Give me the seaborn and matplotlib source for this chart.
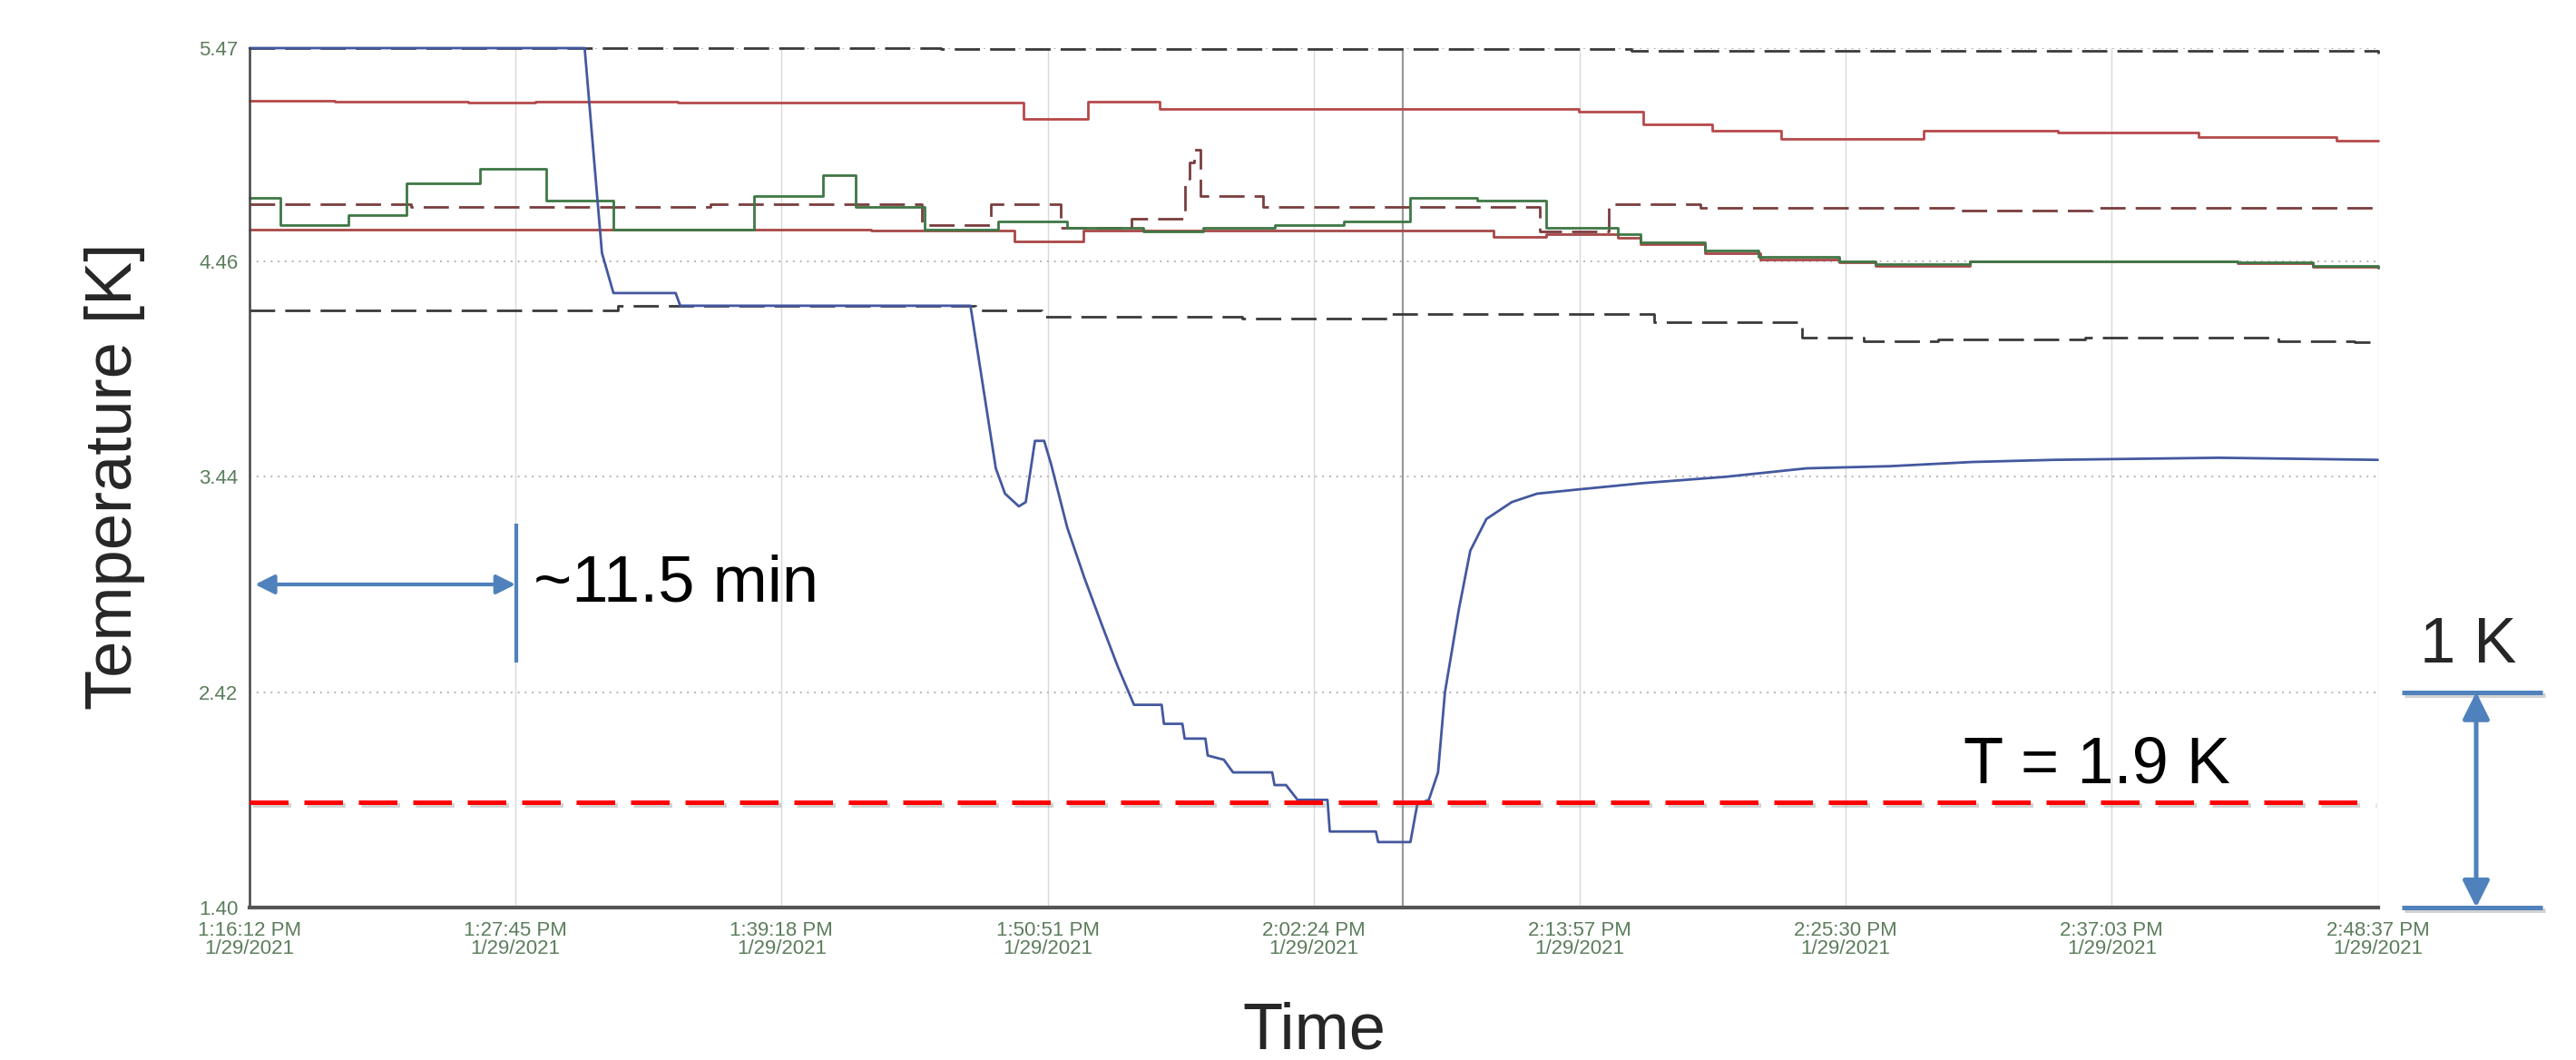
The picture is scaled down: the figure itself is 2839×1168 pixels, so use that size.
import numpy as np
import pandas as pd
import matplotlib
matplotlib.use("Agg")
import matplotlib.pyplot as plt
import matplotlib.patheffects as pe
from matplotlib.transforms import blended_transform_factory
import seaborn as sns

# ---------------- data (time in minutes since 1:16:12 PM) ----------------
x_ticks = [0, 11.55, 23.1, 34.65, 46.2, 57.75, 69.3, 80.85, 92.417]
x_tick_labels = ["1:16:12 PM\n1/29/2021", "1:27:45 PM\n1/29/2021", "1:39:18 PM\n1/29/2021",
                 "1:50:51 PM\n1/29/2021", "2:02:24 PM\n1/29/2021", "2:13:57 PM\n1/29/2021",
                 "2:25:30 PM\n1/29/2021", "2:37:03 PM\n1/29/2021", "2:48:37 PM\n1/29/2021"]
y_ticks = [1.40, 2.42, 3.44, 4.46, 5.47]
y_tick_labels = ["1.40", "2.42", "3.44", "4.46", "5.47"]

# main (blue) sensor
blue_t = [0, 14.55, 15.3, 15.8, 18.5, 18.7, 31.3, 32.4, 32.8, 33.4, 33.7, 34.1, 34.5, 34.8,
          35.5, 36.25, 37.0, 37.7, 38.4, 39.6, 39.7, 40.5, 40.6, 41.5, 41.6, 42.3, 42.7,
          44.4, 44.5, 45.0, 45.5, 46.8, 46.9, 48.9, 49.0, 50.4, 50.7, 51.2, 51.6, 51.9,
          52.5, 53.0, 53.7, 54.8, 55.9, 57.7, 60.5, 64.1, 67.6, 71.2, 74.8, 78.3, 85.5, 92.4]
blue_v = [5.47, 5.47, 4.50, 4.31, 4.31, 4.25, 4.25, 3.48, 3.36, 3.30, 3.32, 3.61, 3.61, 3.50,
          3.20, 2.96, 2.74, 2.54, 2.36, 2.36, 2.27, 2.27, 2.20, 2.20, 2.12, 2.10, 2.04,
          2.04, 1.98, 1.98, 1.91, 1.91, 1.76, 1.76, 1.71, 1.71, 1.89, 1.91, 2.04, 2.42,
          2.81, 3.09, 3.24, 3.32, 3.36, 3.38, 3.41, 3.44, 3.48, 3.49, 3.51, 3.52, 3.53, 3.52]

# black dashed, top (saturated)
blk_top_t = [0, 30, 60, 92.4]
blk_top_v = [5.47, 5.465, 5.455, 5.445]

# black dashed, lower
blk_low_t = [0, 16.0, 31.5, 34.4, 43.1, 49.5, 61.0, 67.4, 70.1, 73.3, 79.7, 88.1, 91.4, 92.4]
blk_low_v = [4.226, 4.25, 4.226, 4.20, 4.19, 4.21, 4.17, 4.10, 4.083, 4.09, 4.10, 4.083, 4.076, 4.076]

# red solid, upper
red_hi_t = [0, 3.7, 9.5, 12.4, 18.6, 27.5, 30.7, 33.6, 36.4, 39.5, 57.7, 60.5, 63.5, 66.5,
            72.7, 78.5, 84.6, 90.6, 92.4]
red_hi_v = [5.22, 5.215, 5.21, 5.215, 5.21, 5.214, 5.21, 5.135, 5.218, 5.18, 5.17, 5.11, 5.08,
            5.04, 5.08, 5.07, 5.05, 5.03, 5.03]

# red solid, lower
red_lo_t = [0, 27.0, 33.2, 36.2, 54.0, 56.3, 59.4, 60.4, 63.2, 65.6, 69.0, 70.6, 74.7, 86.3, 89.6, 92.4]
red_lo_v = [4.61, 4.605, 4.556, 4.607, 4.577, 4.59, 4.57, 4.54, 4.50, 4.47, 4.455, 4.44, 4.46,
            4.45, 4.435, 4.43]

# green solid
green_t = [0, 1.34, 4.3, 6.8, 10.0, 12.9, 15.8, 21.9, 24.9, 26.3, 29.3, 32.5, 35.5, 38.8,
           41.4, 44.5, 47.5, 50.4, 53.3, 56.3, 59.4, 60.4, 63.2, 65.5, 69.0, 70.6, 74.7,
           86.3, 89.6, 92.4]
green_v = [4.76, 4.63, 4.68, 4.83, 4.90, 4.75, 4.61, 4.77, 4.87, 4.72, 4.61, 4.65, 4.62, 4.60,
           4.62, 4.63, 4.65, 4.76, 4.75, 4.62, 4.59, 4.55, 4.51, 4.48, 4.46, 4.445, 4.46,
           4.455, 4.44, 4.43]

# brown dashed
brown_t = [0, 7.0, 20.0, 29.2, 32.2, 35.2, 38.3, 40.6, 40.8, 41.0, 41.3, 44.0, 56.0, 59.0,
           63.0, 74.0, 80.0, 92.2, 92.4]
brown_v = [4.73, 4.72, 4.73, 4.63, 4.73, 4.62, 4.66, 4.85, 4.93, 4.99, 4.77, 4.72, 4.60, 4.73,
           4.715, 4.70, 4.715, 4.70, 4.70]

cursor_t = [50.08]
threshold_T = [1.9]
interval_minutes = [0, 11.55]

# ---------------- style ----------------
sns.set_style("white")
plt.rcParams["font.family"] = ["Liberation Sans", "DejaVu Sans"]

W, H = 2839, 1168
fig = plt.figure(figsize=(W / 100, H / 100), dpi=100)
ax_l, ax_r, ax_t, ax_b = 275 / W, 2621 / W, 53 / H, 1000 / H
ax = fig.add_axes([ax_l, 1 - ax_b, ax_r - ax_l, ax_b - ax_t])

lw = 2.0
series = [
    (blk_top_t, blk_top_v, "#3a3a3a", (0, (10, 4)), "steps-post"),
    (red_hi_t, red_hi_v, "#b5494b", "-", "steps-post"),
    (brown_t, brown_v, "#7a3d3d", (0, (10, 4)), "steps-post"),
    (red_lo_t, red_lo_v, "#a84848", "-", "steps-post"),
    (green_t, green_v, "#3e7845", "-", "steps-post"),
    (blk_low_t, blk_low_v, "#3a3a3a", (0, (10, 4)), "steps-post"),
    (blue_t, blue_v, "#44589f", "-", "default"),
]
for t, v, c, ls, ds in series:
    df = pd.DataFrame({"t": t, "v": v})
    sns.lineplot(data=df, x="t", y="v", ax=ax, color=c, linewidth=lw, linestyle=ls,
                 drawstyle=ds, estimator=None, sort=False, clip_on=False)

ax.axvline(cursor_t[0], color="#9a9a9a", lw=1.6, zorder=1)

ax.set_xlim(x_ticks[0], x_ticks[-1])
ax.set_ylim(y_ticks[0], y_ticks[-1])
ax.set_xticks(x_ticks)
ax.set_xticklabels(x_tick_labels, family=["Liberation Sans Narrow", "Liberation Sans", "DejaVu Sans"],
                   linespacing=0.95)
ax.set_yticks(y_ticks)
ax.set_yticklabels(y_tick_labels, family=["Liberation Sans Narrow", "Liberation Sans", "DejaVu Sans"])
ax.set_xlabel("")
ax.set_ylabel("")
ax.tick_params(axis="x", direction="out", length=9, width=1.6, color="#444444",
               labelcolor="#5b7d5b", labelsize=16, pad=2)
ax.tick_params(axis="y", direction="out", length=7, width=1.6, color="#444444",
               labelcolor="#5b7d5b", labelsize=16, pad=2)
ax.yaxis.grid(True, linestyle=(0, (1, 3)), color="#b5b5b5", lw=1.4)
ax.xaxis.grid(True, linestyle="-", color="#d8d8d8", lw=1.0)
ax.set_axisbelow(True)
for s in ["top", "right"]:
    ax.spines[s].set_visible(False)
ax.spines["left"].set_color("#444444")
ax.spines["left"].set_linewidth(1.8)
ax.spines["bottom"].set_color("#555555")
ax.spines["bottom"].set_linewidth(3.0)

# ---------------- annotations ----------------
office_blue = "#4f81bd"
shadow = [pe.SimpleLineShadow(offset=(2.5, -2.5), shadow_color="#808080", alpha=0.35), pe.Normal()]

# T = 1.9 K threshold
ax.plot([x_ticks[0], 92.2], [threshold_T[0], threshold_T[0]], color="#ff0000", lw=3.6,
        linestyle=(0, (8.5, 3.5)), clip_on=False, zorder=5, path_effects=shadow)
ax.text(74.4, 2.07, "T = 1.9 K", fontsize=52, ha="left", va="center", color="black")

# ~11.5 min interval
ax.annotate("", xy=(interval_minutes[1], 2.93), xytext=(interval_minutes[0] + 0.24, 2.93),
            arrowprops=dict(arrowstyle="<|-|>", color=office_blue, lw=3.0, mutation_scale=32,
                            shrinkA=0, shrinkB=0), zorder=6)
ax.plot([interval_minutes[1] + 0.05] * 2, [2.56, 3.22], color=office_blue, lw=3.0, zorder=6,
        solid_capstyle="butt")
ax.text(12.33, 2.93, "~11.5 min", fontsize=52, ha="left", va="center", color="black")

# 1 K scale bar (between 1.40 and 2.42 gridlines)
trans = blended_transform_factory(fig.transFigure, ax.transData)
for yv in (y_ticks[0], y_ticks[1]):
    ax.plot([2647 / W, 2802 / W], [yv, yv], transform=trans, color=office_blue, lw=3.6,
            clip_on=False, solid_capstyle="butt", path_effects=shadow)
ax.annotate("", xy=(2729 / W, y_ticks[1]), xycoords=trans, xytext=(2729 / W, y_ticks[0]),
            textcoords=trans,
            arrowprops=dict(arrowstyle="<|-|>", color=office_blue, lw=3.6, mutation_scale=45,
                            shrinkA=0, shrinkB=0))
fig.text(2720 / W, 1 - 712 / H, "1 K", fontsize=51, ha="center", va="center")

# axis titles
fig.text(127 / W, 1 - 525 / H, "Temperature [K]", rotation=90, fontsize=52, ha="center", va="center")
fig.text(1448 / W, 1 - 1137 / H, "Time", fontsize=52, ha="center", va="center")

fig.savefig("out.png", dpi=100, facecolor="white")
